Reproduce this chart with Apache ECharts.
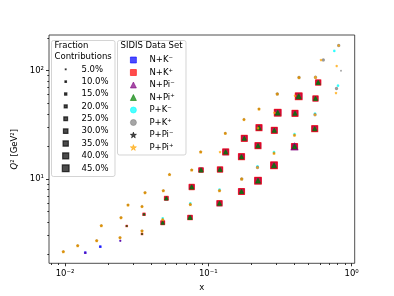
<!DOCTYPE html>
<html><head><meta charset="utf-8">
<script src="https://cdn.jsdelivr.net/npm/echarts@6/dist/echarts.min.js"></script>
<style>html,body{margin:0;padding:0;background:#fff}#c{width:394px;height:296px}</style>
</head><body><div id="c"></div><script>
// ---- axis ticks ----
const xMajorTicks = [0.01, 0.1, 1];
const xMinorTicks = [0.008, 0.009, 0.02, 0.03, 0.04, 0.05, 0.06, 0.07, 0.08, 0.09, 0.2, 0.3, 0.4, 0.5, 0.6, 0.7, 0.8, 0.9];
const yMajorTicks = [10, 100];
const yMinorTicks = [2, 3, 4, 5, 6, 7, 8, 9, 20, 30, 40, 50, 60, 70, 80, 90, 200];
const xRange = [0.00773, 1.051];
const yRange = [1.665, 213.6];
const fractionLevels = [5, 10, 15, 20, 25, 30, 35, 40, 45];
const seriesNames = ['N+K\u207B', 'N+K\u207A', 'N+Pi\u207B', 'N+Pi\u207A', 'P+K\u207B', 'P+K\u207A', 'P+Pi\u207B', 'P+Pi\u207A'];

// ---- data: [x, Q2, fraction %] ----
const nKminus = [
  [0.01385, 2.087, 10], [0.01763, 2.371, 10], [0.02432, 2.694, 5], [0.02695, 3.681, 5],
  [0.03446, 3.106, 5], [0.03559, 4.722, 10], [0.04806, 3.950, 20], [0.05093, 6.634, 20],
  [0.07454, 4.410, 25], [0.0766, 8.436, 30], [0.08894, 12.11, 25], [0.1197, 5.964, 30],
  [0.1207, 12.24, 30], [0.1322, 17.76, 35], [0.1704, 7.665, 35], [0.1704, 16.07, 35],
  [0.1783, 23.76, 35], [0.2222, 9.645, 40], [0.2222, 20.30, 35], [0.2258, 29.77, 35],
  [0.2874, 13.38, 40], [0.2888, 28.17, 35], [0.3050, 40.95, 40], [0.3995, 19.95, 35],
  [0.4027, 40.43, 35], [0.4274, 58.02, 40], [0.5527, 29.14, 35], [0.5598, 55.37, 30],
  [0.5846, 77.80, 30]
];
const nKplus = [
  [0.02695, 3.681, 10], [0.03446, 3.106, 10], [0.03559, 4.722, 15], [0.04806, 3.950, 25],
  [0.05093, 6.634, 25], [0.07454, 4.410, 30], [0.0766, 8.436, 35], [0.08894, 12.11, 30],
  [0.1197, 5.964, 35], [0.1207, 12.24, 35], [0.1322, 17.76, 40], [0.1704, 7.665, 40],
  [0.1704, 16.07, 40], [0.1783, 23.76, 40], [0.2222, 9.645, 45], [0.2222, 20.30, 40],
  [0.2258, 29.77, 40], [0.2874, 13.38, 45], [0.2888, 28.17, 40], [0.3050, 40.95, 45],
  [0.3995, 19.95, 40], [0.4027, 40.43, 40], [0.4274, 58.02, 45], [0.5527, 29.14, 40],
  [0.5598, 55.37, 35], [0.5846, 77.80, 35]
];
const nPiminus = [
  [0.01385, 2.087, 5], [0.02432, 2.694, 5], [0.03559, 4.722, 5], [0.04806, 3.950, 15],
  [0.05093, 6.634, 15], [0.07454, 4.410, 20], [0.0766, 8.436, 20], [0.08894, 12.11, 20],
  [0.1197, 5.964, 20], [0.1207, 12.24, 20], [0.1322, 17.76, 20], [0.1704, 7.665, 20],
  [0.1704, 16.07, 20], [0.1783, 23.76, 20], [0.2222, 9.645, 25], [0.2222, 20.30, 20],
  [0.2258, 29.77, 20], [0.2874, 13.38, 25], [0.2888, 28.17, 20], [0.3050, 40.95, 25],
  [0.3995, 19.95, 45], [0.4027, 40.43, 20], [0.4274, 58.02, 25], [0.5527, 29.14, 20],
  [0.5598, 55.37, 20], [0.5846, 77.80, 20]
];
const nPiplus = [
  [0.02695, 3.681, 5], [0.03446, 3.106, 5], [0.03559, 4.722, 10], [0.04806, 3.950, 20],
  [0.05093, 6.634, 20], [0.07454, 4.410, 25], [0.0766, 8.436, 25], [0.08894, 12.11, 25],
  [0.1197, 5.964, 25], [0.1207, 12.24, 25], [0.1322, 17.76, 25], [0.1704, 7.665, 25],
  [0.1704, 16.07, 25], [0.1783, 23.76, 25], [0.2222, 9.645, 30], [0.2222, 20.30, 25],
  [0.2258, 29.77, 25], [0.2874, 13.38, 30], [0.2888, 28.17, 25], [0.3050, 40.95, 30],
  [0.3995, 19.95, 25], [0.4027, 40.43, 25], [0.4274, 58.02, 30], [0.5527, 29.14, 25],
  [0.5598, 55.37, 25], [0.5846, 77.80, 25]
];
const pKminus = [
  [0.04806, 4.33, 10], [0.0749, 5.95, 10], [0.1197, 7.98, 10], [0.2204, 13.07, 10],
  [0.2874, 17.68, 10], [0.3995, 25.95, 10], [0.5554, 40.1, 10], [0.7574, 152.1, 10],
  [0.8038, 72.69, 10]
];
const pKplus = [
  [0.00973, 2.132, 10], [0.01226, 2.422, 10], [0.01664, 2.694, 10], [0.01792, 3.706, 10],
  [0.02420, 2.871, 10], [0.02459, 4.392, 10], [0.02752, 5.753, 10], [0.03446, 3.311, 10],
  [0.03446, 5.573, 10], [0.03617, 7.474, 10], [0.04853, 7.798, 10], [0.05361, 11.00, 10],
  [0.0749, 5.814, 10], [0.0766, 12.11, 10], [0.08851, 17.76, 10], [0.1197, 7.798, 10],
  [0.1314, 26.42, 10], [0.1710, 10.0, 15], [0.1774, 35.43, 10], [0.2204, 12.77, 15],
  [0.2258, 44.30, 10], [0.3030, 60.95, 15], [0.4295, 86.51, 15], [0.5554, 39.25, 15],
  [0.5598, 86.91, 15], [0.6346, 125.6, 15], [0.7845, 68.48, 15], [0.8128, 170.9, 15],
  [0.8434, 100.0, 5]
];
const pPiminus = [
  [0.00973, 2.132, 5], [0.01226, 2.422, 5], [0.01664, 2.694, 5], [0.01792, 3.706, 5],
  [0.02420, 2.871, 5], [0.02459, 4.392, 5], [0.02752, 5.753, 5], [0.03446, 3.311, 5],
  [0.03446, 5.573, 5], [0.03617, 7.474, 5], [0.04806, 4.227, 5], [0.04853, 7.798, 5],
  [0.05361, 11.00, 5], [0.0749, 5.814, 5], [0.0766, 12.11, 5], [0.08851, 17.76, 5],
  [0.1197, 7.798, 5], [0.1314, 26.42, 5], [0.1710, 10.0, 5], [0.1774, 35.43, 5],
  [0.2258, 44.30, 5], [0.2874, 17.28, 5], [0.3030, 60.95, 5], [0.3995, 25.37, 5],
  [0.4295, 86.51, 5]
];
const pPiplus = [
  [0.00973, 2.132, 15], [0.01226, 2.422, 15], [0.01664, 2.694, 15], [0.01792, 3.706, 15],
  [0.02420, 2.871, 15], [0.02459, 4.392, 15], [0.02752, 5.753, 15], [0.03446, 3.311, 15],
  [0.03446, 5.573, 15], [0.03617, 7.474, 15], [0.04806, 4.227, 15], [0.04853, 7.798, 15],
  [0.05361, 11.00, 15], [0.0749, 5.814, 15], [0.0766, 12.11, 15], [0.08851, 17.76, 15],
  [0.1197, 7.798, 15], [0.1207, 17.76, 10], [0.1314, 26.42, 15], [0.1710, 10.0, 15],
  [0.1774, 35.43, 15], [0.2204, 12.77, 10], [0.2222, 29.5, 10], [0.2258, 44.30, 15],
  [0.2874, 17.28, 15], [0.2895, 40.95, 10], [0.3030, 60.95, 15], [0.3995, 25.37, 15],
  [0.4027, 58.77, 10], [0.4295, 86.51, 15], [0.5554, 39.25, 10], [0.5598, 86.91, 15],
  [0.6115, 125.6, 10], [0.7783, 62.26, 10], [0.7870, 110.5, 10], [0.8128, 170.9, 10]
];
const seriesData = [nKminus, nKplus, nPiminus, nPiplus, pKminus, pKplus, pPiminus, pPiplus];

// ---- styles ----
const STAR = 'path://M50,0 L61.23,34.55 L97.55,34.55 L68.16,55.9 L79.39,90.45 L50,69.1 L20.61,90.45 L31.84,55.9 L2.45,34.55 L38.77,34.55 Z';
const seriesSymbols = ['rect', 'rect', 'triangle', 'triangle', 'circle', 'circle', STAR, STAR];
const seriesColors = ['rgba(0,0,255,0.7)', 'rgba(255,0,0,0.7)', 'rgba(128,0,128,0.7)', 'rgba(0,128,0,0.7)',
  'rgba(0,255,255,0.7)', 'rgba(128,128,128,0.7)', 'rgba(0,0,0,0.7)', 'rgba(255,165,0,0.7)'];
const FONT = 'DejaVu Sans';
const FS = 8.5;
const sizeOf = f => 0.15 * f;
const supMap = {'-': '\u207B', '0': '\u2070', '1': '\u00B9', '2': '\u00B2', '3': '\u00B3'};
const powLabel = v => '10' + String(Math.round(Math.log10(v))).split('').map(c => supMap[c]).join('');

const series = seriesData.map((d, i) => ({
  type: 'scatter', name: seriesNames[i], data: d,
  symbol: seriesSymbols[i], symbolKeepAspect: true,
  symbolSize: v => sizeOf(v[2]),
  itemStyle: {color: seriesColors[i], borderColor: seriesColors[i], borderWidth: 1.2,
    borderJoin: 'round', opacity: 1},
  emphasis: {disabled: true}, z: 2 + i * 0.01
}));

// ---- legends drawn as graphic boxes ----
const graphics = [];
graphics.push({type: 'rect', shape: {x: 51.5, y: 40.5, width: 63.5, height: 136, r: 2},
  style: {fill: 'rgba(255,255,255,0.8)', stroke: '#cccccc', lineWidth: 0.85}, z: 100});
graphics.push({type: 'rect', shape: {x: 117.5, y: 40.5, width: 68.5, height: 114.5, r: 2},
  style: {fill: 'rgba(255,255,255,0.8)', stroke: '#cccccc', lineWidth: 0.85}, z: 100});
graphics.push({type: 'text', x: 54.5, y: 46, style: {text: 'Fraction', font: FS + 'px "' + FONT + '"', fill: '#000', verticalAlign: 'middle'}, z: 101});
graphics.push({type: 'text', x: 54.5, y: 56.5, style: {text: 'Contributions', font: FS + 'px "' + FONT + '"', fill: '#000', verticalAlign: 'middle'}, z: 101});
graphics.push({type: 'text', x: 120.5, y: 46, style: {text: 'SIDIS Data Set', font: FS + 'px "' + FONT + '"', fill: '#000', verticalAlign: 'middle'}, z: 101});
fractionLevels.forEach((f, i) => {
  const cy = 69.3 + i * 12.375, s = sizeOf(f);
  graphics.push({type: 'rect', shape: {x: 65.7 - s / 2, y: cy - s / 2, width: s, height: s},
    style: {fill: 'rgba(0,0,0,0.7)', stroke: 'rgba(0,0,0,0.7)', lineWidth: 1.2}, z: 101});
  graphics.push({type: 'text', x: 81.5, y: cy, style: {text: f.toFixed(1) + '%', font: FS + 'px "' + FONT + '"', fill: '#000', verticalAlign: 'middle'}, z: 101});
});

const chart = echarts.init(document.getElementById('c'), null, {renderer: 'canvas'});
const tickLine = {color: '#000', width: 0.8};
chart.setOption({
  animation: false,
  backgroundColor: '#fff',
  textStyle: {fontFamily: FONT},
  grid: {left: 49, right: 39.3, top: 35, bottom: 32.7, show: true, borderColor: '#222', borderWidth: 0.8,
    backgroundColor: 'transparent', containLabel: false, outerBoundsMode: 'none'},
  legend: {
    orient: 'vertical', left: 130, top: 55.5, padding: 0, itemGap: 3.5,
    itemWidth: 6, itemHeight: 6, z: 102, selectedMode: false,
    itemStyle: {borderWidth: 0.8, borderJoin: 'round'},
    textStyle: {fontFamily: FONT, fontSize: FS, color: '#000', lineHeight: 9, padding: [0, 0, 0, 8]},
    data: seriesNames
  },
  xAxis: [
    {type: 'log', min: xRange[0], max: xRange[1], name: 'x', nameLocation: 'middle', nameGap: 19,
      nameTextStyle: {fontFamily: FONT, fontSize: FS, color: '#000'},
      axisLine: {show: false}, splitLine: {show: false},
      axisTick: {show: true, customValues: xMajorTicks, length: 3, lineStyle: tickLine},
      axisLabel: {customValues: xMajorTicks, formatter: powLabel, margin: 6, fontFamily: FONT, fontSize: FS, color: '#000'}},
    {type: 'log', min: xRange[0], max: xRange[1], position: 'bottom',
      axisLine: {show: false}, splitLine: {show: false},
      axisTick: {show: true, customValues: xMinorTicks, length: 1.7, lineStyle: tickLine},
      axisLabel: {show: false}}
  ],
  yAxis: [
    {type: 'log', min: yRange[0], max: yRange[1], nameLocation: 'middle', nameRotate: 90, nameGap: 22,
      name: '{i|Q}{n|\u00B2 [GeV\u00B2]}',
      nameTextStyle: {rich: {i: {fontFamily: FONT, fontSize: FS, fontStyle: 'italic', color: '#000'},
        n: {fontFamily: FONT, fontSize: FS, color: '#000'}}},
      axisLine: {show: false}, splitLine: {show: false},
      axisTick: {show: true, customValues: yMajorTicks, length: 3, lineStyle: tickLine},
      axisLabel: {customValues: yMajorTicks, formatter: powLabel, margin: 5, fontFamily: FONT, fontSize: FS, color: '#000'}},
    {type: 'log', min: yRange[0], max: yRange[1], position: 'left',
      axisLine: {show: false}, splitLine: {show: false},
      axisTick: {show: true, customValues: yMinorTicks, length: 1.7, lineStyle: tickLine},
      axisLabel: {show: false}}
  ],
  graphic: graphics,
  series: series
});
</script></body></html>
